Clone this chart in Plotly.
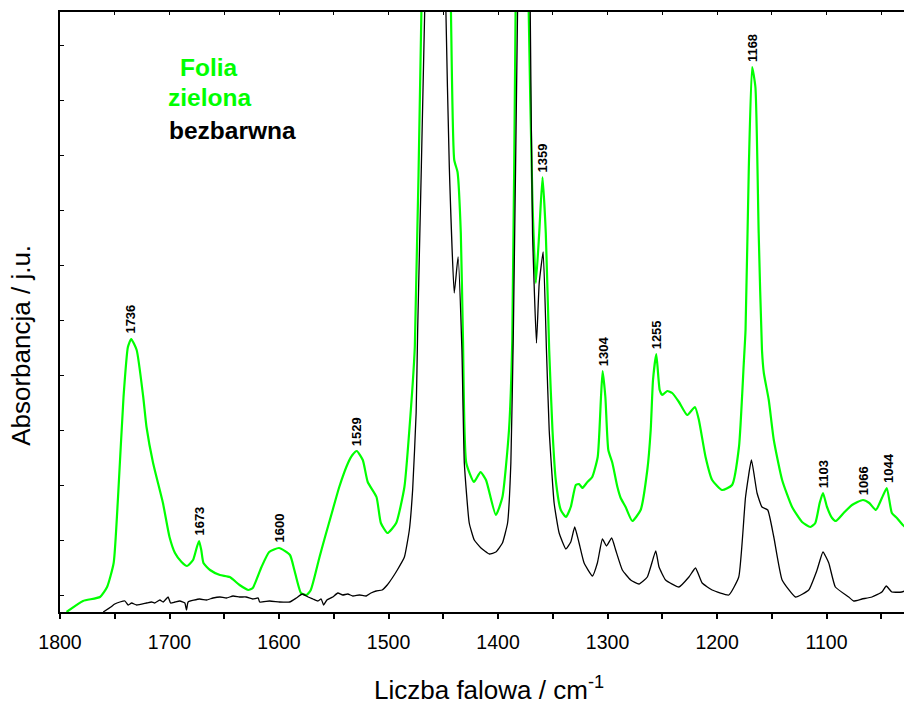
import plotly.graph_objects as go

# green film spectrum (wavenumber, absorbance in arbitrary units)
wn_green = [1794, 1779, 1763.5, 1757, 1751, 1747, 1742, 1738, 1735, 1730, 1724, 1721, 1715, 1706, 1700,
            1695, 1689, 1684, 1678.5, 1675, 1673, 1671, 1669, 1663, 1654, 1645, 1636, 1628, 1624, 1616,
            1609, 1600, 1590, 1586, 1580, 1575, 1571, 1563, 1558, 1551, 1545, 1537, 1533, 1529, 1523.5,
            1519, 1511, 1507, 1501, 1493, 1485.5, 1481, 1476, 1470, 1462, 1456, 1449, 1443, 1440, 1437,
            1434, 1432, 1429, 1422, 1416, 1411, 1402, 1396, 1390, 1387, 1384, 1378, 1372, 1368.6, 1365.5,
            1362.4, 1359.4, 1356.4, 1353.3, 1350.3, 1347.3, 1342.7, 1338, 1333.6, 1329, 1326, 1323, 1318.4,
            1314, 1309, 1306, 1304.5, 1302, 1299.3, 1295.6, 1291, 1288, 1283.5, 1277.4, 1269.8, 1263.7,
            1260.6, 1258.5, 1255.5, 1252.4, 1250, 1245.5, 1241, 1234.8, 1227.3, 1220.2, 1216.6, 1210.5,
            1204.5, 1195.4, 1186.3, 1180, 1175.6, 1174, 1171, 1168, 1165, 1162, 1159, 1157.3, 1152.8,
            1148.2, 1140.6, 1131.5, 1122.4, 1114.8, 1110.3, 1106.3, 1103.3, 1099.6, 1095, 1091.5, 1084.4,
            1076.8, 1066.8, 1061, 1055, 1049.5, 1045, 1040.4, 1035.8, 1028.2, 1022]
abs_green = [0, 11, 15, 25, 49, 115, 215, 265, 273, 262, 215, 185, 149, 109, 75,
             59, 50, 46, 52, 65, 71, 62, 49, 42, 37, 35, 27, 22, 24, 45,
             60, 64, 57, 42, 19, 17, 22, 55, 75, 102, 125, 149, 157, 161, 152,
             130, 115, 89, 79, 89, 125, 182, 265, 600, 1100, 1500, 1100, 600, 452, 440,
             379, 272, 149, 130, 140, 132, 97, 115, 182, 272, 600, 1300, 600, 412, 329,
             379, 435, 379, 262, 182, 132, 102, 95, 105, 127, 128, 124, 130,
             135, 155, 215, 241, 215, 162, 149, 125, 114, 105, 91, 102, 142,
             182, 232, 258, 222, 217, 221, 219, 210, 197, 205, 192, 155,
             132, 122, 127, 165, 249, 282, 445, 545, 525, 379, 262, 239, 212,
             172, 132, 105, 90, 85, 89, 109, 119, 105, 94, 91, 99,
             107, 112, 109, 102, 114, 124, 99, 94, 85, 89]

# colourless film spectrum
wn_black = [1760.5, 1753.6, 1750, 1745.3, 1740.7, 1737.7, 1734.6, 1730, 1721, 1716.4, 1713.4, 1708.8,
            1705.8, 1701.3, 1699, 1695, 1690.6, 1686, 1684.5, 1683, 1672.4, 1666.3, 1660.3, 1654, 1648,
            1642, 1636, 1630, 1624, 1619, 1617.7, 1608.6, 1599.5, 1590.3, 1584.2, 1578.8, 1573.4, 1569,
            1564.5, 1561.5, 1559.3, 1556.3, 1551, 1546.3, 1541.8, 1537.2, 1532.6, 1526.5, 1520.4, 1516,
            1511.3, 1505.8, 1501.2, 1496.6, 1492, 1485.5, 1481, 1478, 1474.8, 1473.4, 1467, 1457, 1447.6,
            1444.5, 1440, 1436.5, 1433, 1430.8, 1426.3, 1421.7, 1415.6, 1408, 1402, 1396, 1391.3, 1388.3,
            1386, 1382.2, 1376, 1370.6, 1368.5, 1364.9, 1362.4, 1358.8, 1355.8, 1353.3, 1348.8, 1344.2,
            1338, 1333.6, 1330, 1326, 1321.4, 1313.8, 1309.3, 1304.7, 1301, 1296.2, 1292.6, 1286.5,
            1278.9, 1271.3, 1263.7, 1256, 1253, 1247, 1234.8, 1225.7, 1219.7, 1213.6, 1204.5, 1189.3,
            1180.2, 1174, 1168.6, 1163.5, 1159, 1153.7, 1148.2, 1140.6, 1128.4, 1116.3, 1108.7, 1103.3,
            1098, 1092, 1079.8, 1075.3, 1067.7, 1058.6, 1049.5, 1045.5, 1040.4, 1031.3, 1022]
abs_black = [0, 5, 8, 10, 11, 7, 9, 7, 9, 10, 9, 12,
             10, 15, 9, 10, 11, 9, 2, 10, 13, 12, 14, 15, 14,
             16, 15, 15, 13, 14, 10, 11, 10, 10, 14, 18, 15, 13,
             11, 13, 7, 12, 15, 19, 17, 18, 16, 17, 16, 19,
             21, 22, 27, 34, 42, 55, 82, 122, 199, 282, 600, 1500, 600,
             445, 319, 355, 262, 149, 89, 72, 64, 58, 60, 69, 89, 149,
             282, 600, 1300, 600, 379, 269, 329, 360, 262, 182, 109, 79,
             63, 70, 85, 69, 49, 36, 49, 73, 66, 74, 62, 42,
             32, 28, 35, 61, 45, 32, 25, 35, 44, 29, 22, 17,
             35, 115, 152, 119, 105, 102, 75, 32, 15, 22, 42, 60,
             49, 25, 15, 11, 13, 15, 20, 26, 20, 20, 24]

# peak labels and the height of the green band they mark
peak_labels = [1736, 1673, 1600, 1529, 1359, 1304, 1255, 1168, 1103, 1066, 1044]
peak_heights = [273, 71, 64, 161, 435, 241, 258, 545, 119, 112, 124]

GREEN = "#00ff00"
FONT = "Liberation Sans, Arial, sans-serif"

fig = go.Figure()
# black trace on the top (overlaid) x axis so that axis gets drawn with its ticks
fig.add_trace(go.Scatter(x=wn_black, y=abs_black, mode="lines", xaxis="x2",
                         line=dict(color="black", width=1.3, shape="spline", smoothing=0.4)))
fig.add_trace(go.Scatter(x=wn_green, y=abs_green, mode="lines",
                         line=dict(color=GREEN, width=2.2, shape="spline", smoothing=0.5)))

for lab, h in zip(peak_labels, peak_heights):
    fig.add_annotation(x=lab, y=h, text="<b>%d</b>" % lab, textangle=-90, showarrow=False,
                       xanchor="center", yanchor="bottom", yshift=3,
                       font=dict(family=FONT, size=13, color="black"))

legend_font = dict(family=FONT, size=24.5)
fig.add_annotation(xref="paper", yref="paper", x=0.175, y=0.907, text="<b>Folia</b>",
                   xanchor="center", yanchor="middle", showarrow=False,
                   font=dict(legend_font, color=GREEN))
fig.add_annotation(xref="paper", yref="paper", x=0.176, y=0.858, text="<b>zielona</b>",
                   xanchor="center", yanchor="middle", showarrow=False,
                   font=dict(legend_font, color=GREEN))
fig.add_annotation(xref="paper", yref="paper", x=0.203, y=0.802, text="<b>bezbarwna</b>",
                   xanchor="center", yanchor="middle", showarrow=False,
                   font=dict(legend_font, color="black"))

fig.add_annotation(xref="paper", yref="paper", x=-0.046, y=0.445, text="Absorbancja / j.u.",
                   xanchor="center", yanchor="middle", textangle=-90, showarrow=False,
                   font=dict(family=FONT, size=26, color="black"))
fig.add_annotation(xref="paper", yref="paper", x=0.5035, y=-0.127,
                   text="Liczba falowa / cm<sup>-1</sup>", xanchor="center", yanchor="middle",
                   showarrow=False, font=dict(family=FONT, size=26, color="black"))

# page body has an 8px margin, so the figure is 8px smaller and the margins shifted
fig.update_layout(
    width=904, height=695,
    margin=dict(l=52, r=0, t=4, b=91),
    plot_bgcolor="white", paper_bgcolor="white",
    showlegend=False,
    xaxis=dict(range=[1800, 1022], tickvals=[1800, 1700, 1600, 1500, 1400, 1300, 1200, 1100],
               ticks="outside", ticklen=5, tickwidth=1.5, tickcolor="black", ticklabelstandoff=7,
               minor=dict(dtick=50, ticks="outside", ticklen=5, tickwidth=1.5, tickcolor="black"),
               showline=True, linecolor="black", linewidth=2, showgrid=False, zeroline=False,
               tickfont=dict(family=FONT, size=19.5, color="black")),
    xaxis2=dict(range=[1800, 1022], overlaying="x", side="top", anchor="y", dtick=50,
                ticks="inside", ticklen=3, tickwidth=1, tickcolor="black", showticklabels=False,
                showline=True, linecolor="black", linewidth=2, showgrid=False, zeroline=False),
    yaxis=dict(range=[0, 600], showticklabels=False, ticks="inside", tick0=17, dtick=55,
               ticklen=4, tickwidth=1, tickcolor="black",
               showline=True, linecolor="black", linewidth=2, showgrid=False, zeroline=False),
)

fig.write_html("out.html")
